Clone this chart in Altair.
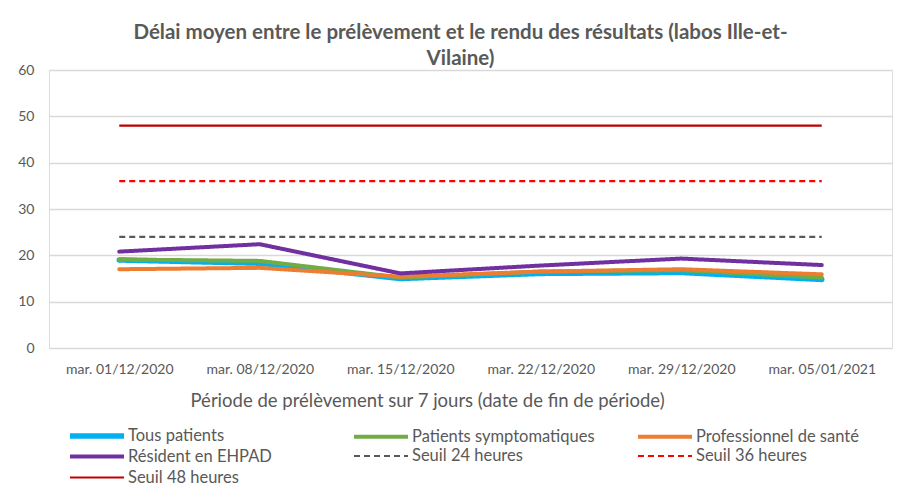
import altair as alt
import pandas as pd

dates = ["mar. 01/12/2020", "mar. 08/12/2020", "mar. 15/12/2020",
         "mar. 22/12/2020", "mar. 29/12/2020", "mar. 05/01/2021"]

tous_patients = [19.0, 18.3, 15.0, 16.1, 16.3, 14.8]
patients_sympto = [19.1, 18.8, 15.2, 16.5, 16.8, 15.2]
pro_sante = [17.0, 17.3, 15.4, 16.5, 17.0, 15.9]
resident_ehpad = [20.8, 22.4, 16.1, 17.8, 19.3, 17.9]
seuil_24 = [24, 24, 24, 24, 24, 24]
seuil_36 = [36, 36, 36, 36, 36, 36]
seuil_48 = [48, 48, 48, 48, 48, 48]

series_names = ["Tous patients", "Patients symptomatiques", "Professionnel de santé",
                "Résident en EHPAD", "Seuil 24 heures", "Seuil 36 heures", "Seuil 48 heures"]
series_values = [tous_patients, patients_sympto, pro_sante, resident_ehpad,
                 seuil_24, seuil_36, seuil_48]
is_threshold = [False, False, False, False, True, True, True]
colors = ["#00B0F0", "#70AD47", "#ED7D31", "#7030A0", "#595959", "#FF0000", "#C00000"]
dashes = [[1, 0], [1, 0], [1, 0], [1, 0], [6, 4], [6, 4], [1, 0]]
widths = [5.5, 4, 4, 4, 2.2, 2.2, 2.2]

rows = []
for name, vals, thr in zip(series_names, series_values, is_threshold):
    for d, v in zip(dates, vals):
        rows.append({"date": d, "series": name, "value": v, "seuil": thr})
df = pd.DataFrame(rows)

TEXT = "#595959"
FONT = "Lato"

base = alt.Chart(df).encode(
    x=alt.X("date:N", sort=dates,
            scale=alt.Scale(type="point", padding=0.5),
            axis=alt.Axis(title="Période de prélèvement sur 7 jours (date de fin de période)",
                          labelAngle=0, ticks=False, domain=False, grid=False,
                          labelPadding=14, labelFontSize=14, labelColor=TEXT, labelFont=FONT,
                          titleFontSize=18.5, titleColor=TEXT, titleFont=FONT, titleFontWeight="normal",
                          titleAnchor="start", titleAlign="left", titleX=141, titleY=52,
                          titleBaseline="middle")),
    y=alt.Y("value:Q",
            scale=alt.Scale(domain=[0, 60], nice=False),
            axis=alt.Axis(title=None, values=[0, 10, 20, 30, 40, 50, 60], ticks=False,
                          domain=False, labelPadding=15, labelFontSize=14, labelColor=TEXT,
                          labelFont=FONT, gridColor="#D9D9D9", gridWidth=1.5)),
    color=alt.Color("series:N", sort=series_names,
                    scale=alt.Scale(domain=series_names, range=colors),
                    legend=alt.Legend(title=None, orient="none", legendX=38, legendY=356,
                                      values=series_names, direction="horizontal",
                                      columns=3, gridAlign="all", columnPadding=34,
                                      rowPadding=0.5, symbolType="M-3.86,0L3.86,0", symbolSize=196,
                                      labelFontSize=16.5, labelColor=TEXT, labelFont=FONT,
                                      labelOffset=21, padding=0, labelLimit=300)),
    strokeDash=alt.StrokeDash("series:N", sort=series_names,
                              scale=alt.Scale(type="ordinal", domain=series_names, range=dashes)),
    strokeWidth=alt.StrokeWidth("series:N", sort=series_names,
                                scale=alt.Scale(type="ordinal", domain=series_names, range=widths)),
)

data_lines = base.transform_filter("!datum.seuil").mark_line(strokeCap="round", strokeJoin="round")
seuil_lines = base.transform_filter("datum.seuil").mark_line(strokeCap="butt")

chart = alt.layer(seuil_lines, data_lines).properties(
    width=843,
    height=278,
    title=alt.TitleParams(
        text=["Délai moyen entre le prélèvement et le rendu des résultats (labos Ille-et-",
              "Vilaine)"],
        font=FONT, fontSize=20.5, fontWeight="bold", color=TEXT, anchor="middle",
        dx=-10, offset=-6, lineHeight=26),
    autosize=alt.AutoSizeParams(type="none"),
    padding={"left": 41, "top": 62, "right": 14, "bottom": 142},
).configure_view(
    fill="#F0F0F0", stroke=None
).configure(background="white")

chart.save("out.html", embed_options={"renderer": "svg", "actions": False})
